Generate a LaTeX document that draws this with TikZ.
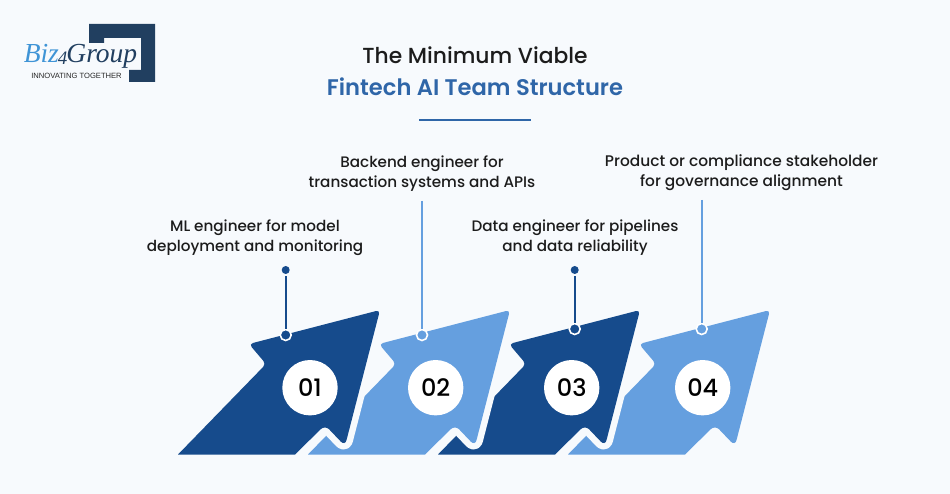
\documentclass[tikz,border=0pt]{standalone}
\usepackage{fontspec}
\setmainfont{Poppins Medium}
\newfontfamily\titlefont{Poppins SemiBold}
\newfontfamily\logofont{Liberation Serif}
\newfontfamily\tagfont{Liberation Sans}
\definecolor{pagebg}{HTML}{F7FAFD}
\definecolor{darkblue}{HTML}{164B8C}
\definecolor{lightblue}{HTML}{659FDF}
\definecolor{titleblue}{HTML}{2F66A8}
\definecolor{logonavy}{HTML}{213F60}
\definecolor{logosky}{HTML}{3F94D6}
\definecolor{textgrey}{HTML}{1C1C1C}
\newcommand{\arrowoutline}{(178,454.5) [rounded corners=4pt] -- (266,364) -- (249,344) -- (380,310) [rounded corners=6pt] -- (345,446) -- (325,425) [sharp corners] -- (295,454.5) -- cycle}
\tikzset{
  halo/.style={line width=13pt,draw=pagebg,line join=round},
  numcircle/.style={circle,fill=white,minimum size=55.4pt,inner sep=0pt,text=black,font=\fontsize{24}{24}\selectfont},
  lbl/.style={align=center,font=\fontsize{15.2}{20}\selectfont,text=textgrey},
  topdot/.style={circle,inner sep=0pt,minimum size=8pt,outer sep=2.5pt},
  footdot/.style={circle,draw=white,line width=1.6pt,inner sep=0pt,minimum size=11pt},
  stem/.style={line width=1.7pt},
}
\begin{document}
\begin{tikzpicture}[x=1pt,y=-1pt]
\useasboundingbox[fill=pagebg] (0,0) rectangle (950,494);
% logo
\fill[logonavy] (89,24) -- (155,24) -- (155,82) -- (129,82) -- (129,70) -- (141,70) -- (141,38) -- (104,38) -- (104,43) -- (89,43) -- cycle;
\node[inner sep=0pt,font=\logofont\itshape\fontsize{27.5}{28}\selectfont] (logo) at (80.5,56) {\textcolor{logosky}{Biz}\textcolor{logonavy}{\kern-1pt\raisebox{-2pt}{\fontsize{19}{19}\selectfont 4}\kern-1pt Group}};
\node[inner sep=0pt,font=\tagfont\fontsize{7.6}{7.6}\selectfont,text=black!85] (tag) at (76.5,76) {INNOVATING TOGETHER};
% title
\node[inner sep=0pt,font=\fontsize{21.8}{22}\selectfont,text=textgrey] (title1) at (475,55.5) {The Minimum Viable};
\node[inner sep=0pt,font=\titlefont\fontsize{22.6}{22}\selectfont,text=titleblue] (title2) at (475,86.5) {Fintech AI Team Structure};
\coordinate (ruleL) at (419,120);
\coordinate (ruleR) at (531,120);
\draw[titleblue,line width=1.4pt] (ruleL) -- (ruleR);
% arrows, last one first so that each lies over the next
\foreach \n/\dx/\col in {4/390/lightblue,3/260/darkblue,2/130/lightblue,1/0/darkblue}{
  \begin{scope}[xshift=\dx pt]
    \path[halo] \arrowoutline;
    \fill[\col] \arrowoutline;
  \end{scope}
}
\node[numcircle] (num1) at (310,387.7) {01};
\node[numcircle] (num2) at (435.7,387.7) {02};
\node[numcircle] (num3) at (571.7,387.7) {03};
\node[numcircle] (num4) at (702.7,387.7) {04};
% connectors
\node[footdot,fill=darkblue] (foot1) at (285.7,335) {};
\node[footdot,fill=lightblue] (foot2) at (422,335) {};
\node[footdot,fill=darkblue] (foot3) at (574.7,329) {};
\node[footdot,fill=lightblue] (foot4) at (701.7,329) {};
\node[topdot,fill=darkblue] (top1) at (285.7,270) {};
\node[topdot,fill=darkblue] (top3) at (574.7,270) {};
\coordinate (top2) at (422,201);
\coordinate (top4) at (701.7,200);
\draw[stem,darkblue] (top1) -- (foot1);
\draw[stem,lightblue] (top2) -- (foot2);
\draw[stem,darkblue] (top3) -- (foot3);
\draw[stem,lightblue] (top4) -- (foot4);
% labels
\node[lbl] (lab1) at (255,237.5) {ML engineer for model\\deployment and monitoring};
\node[lbl] (lab2) at (422,173.5) {Backend engineer for\\transaction systems and APIs};
\node[lbl] (lab3) at (575,237.5) {Data engineer for pipelines\\and data reliability};
\node[lbl,font=\fontsize{15.4}{20}\selectfont] (lab4) at (741.5,172.5) {Product or compliance stakeholder\\for governance alignment};
\end{tikzpicture}
\end{document}
